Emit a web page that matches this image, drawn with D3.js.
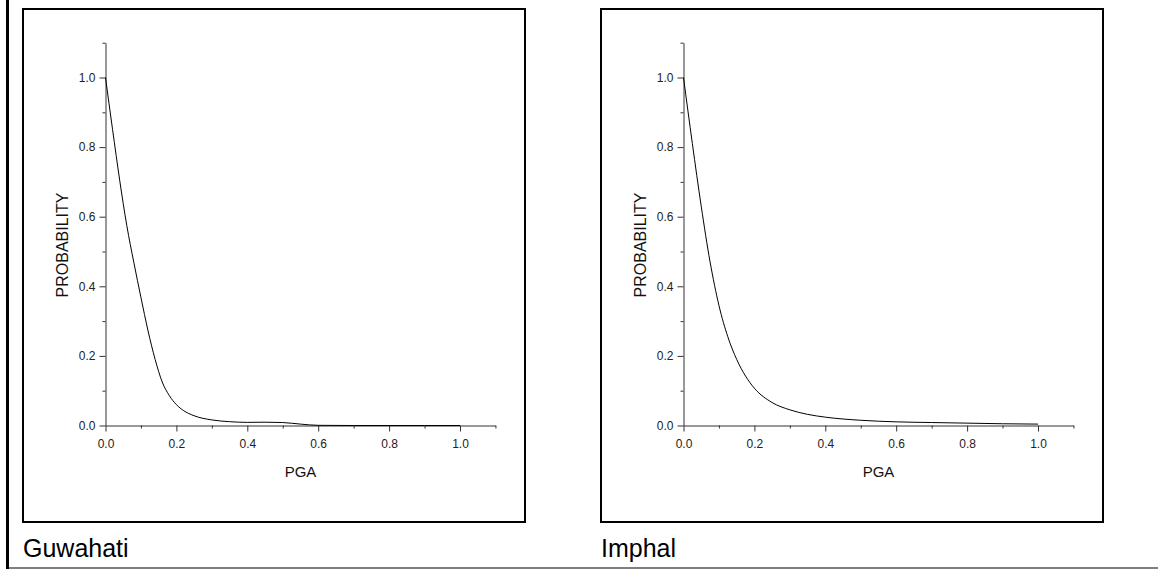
<!DOCTYPE html>
<html>
<head>
<meta charset="utf-8">
<script src="https://cdn.jsdelivr.net/npm/d3@7"></script>
<style>
body { margin: 0; background: #fff; }
svg text { font-family: "Liberation Sans", Arial, sans-serif; }
</style>
</head>
<body>
<div id="chart"></div>
<script>
// values
var pga_guwahati  = [0, 0.02, 0.04, 0.06, 0.08, 0.10, 0.12, 0.14, 0.16, 0.18, 0.20, 0.22, 0.25, 0.30, 0.35, 0.40, 0.45, 0.50, 0.55, 0.60, 0.70, 0.80, 0.90, 1.00];
var prob_guwahati = [1.0, 0.85, 0.705, 0.575, 0.468, 0.368, 0.272, 0.19, 0.125, 0.086, 0.06, 0.043, 0.028, 0.016, 0.011, 0.009, 0.0095, 0.0085, 0.004, 0.0005, 0, 0, 0, 0];

var pga_imphal  = [0, 0.025, 0.05, 0.075, 0.10, 0.125, 0.15, 0.175, 0.20, 0.25, 0.30, 0.35, 0.40, 0.50, 0.60, 0.70, 0.80, 0.90, 1.00];
var prob_imphal = [1.0, 0.81, 0.63, 0.47, 0.345, 0.255, 0.19, 0.142, 0.107, 0.066, 0.045, 0.032, 0.024, 0.015, 0.0105, 0.0085, 0.0068, 0.005, 0.004];

var major_ticks = [0, 0.2, 0.4, 0.6, 0.8, 1.0];
var minor_ticks = [0.1, 0.3, 0.5, 0.7, 0.9, 1.1];
var x_title = "PGA";
var y_title = "PROBABILITY";
var panel_names = ["Guwahati", "Imphal"];

var WIDTH = 1158;
var HEIGHT = 569;

var svg = d3.select('#chart').append('svg')
    .attr('width', WIDTH)
    .attr('height', HEIGHT);

// page rules: heavy bar on the left, thin rule at the bottom
svg.append('line')
    .attr('x1', 7.5).attr('y1', 0)
    .attr('x2', 7.5).attr('y2', HEIGHT)
    .attr('stroke', '#000')
    .attr('stroke-width', 3);

svg.append('line')
    .attr('x1', 6).attr('y1', 568)
    .attr('x2', WIDTH).attr('y2', 568)
    .attr('stroke', '#000')
    .attr('stroke-width', 1.2);

function drawPanel(left, name, pga, prob) {
    var g = svg.append('g')
	.attr('transform', 'translate(' + left + ',0)');

    // frame
    g.append('rect')
	.attr('x', 0).attr('y', 9)
	.attr('width', 502).attr('height', 513)
	.attr('fill', 'none')
	.attr('stroke', '#000')
	.attr('stroke-width', 2);

    var x = d3.scaleLinear().domain([0, 1.1]).range([82.5, 82.5 + 354.5 * 1.1]);
    var y = d3.scaleLinear().domain([0, 1.1]).range([425.5, 425.5 - 348 * 1.1]);

    var fmt = d3.format('.1f');

    // minor ticks first, then major ticks with domain line
    g.append('g')
	.attr('transform', 'translate(0,' + y(0) + ')')
	.call(d3.axisBottom(x).tickValues(minor_ticks).tickSize(3).tickSizeOuter(0).tickFormat(''))
	.call(function(a) { a.select('.domain').remove(); });

    g.append('g')
	.attr('transform', 'translate(' + x(0) + ',0)')
	.call(d3.axisLeft(y).tickValues(minor_ticks).tickSize(3).tickSizeOuter(0).tickFormat(''))
	.call(function(a) { a.select('.domain').remove(); });

    g.append('g')
	.attr('transform', 'translate(0,' + y(0) + ')')
	.call(d3.axisBottom(x).tickValues(major_ticks).tickSize(6).tickSizeOuter(0).tickPadding(8).tickFormat(fmt));

    g.append('g')
	.attr('transform', 'translate(' + x(0) + ',0)')
	.call(d3.axisLeft(y).tickValues(major_ticks).tickSize(6).tickSizeOuter(0).tickPadding(4).tickFormat(fmt));

    g.selectAll('.tick line').attr('stroke', '#333');
    g.selectAll('.domain').attr('stroke', '#333');
    g.selectAll('.tick text')
	.attr('fill', '#222')
	.attr('font-family', '"Liberation Sans", Arial, sans-serif')
	.attr('font-size', 12);

    // curve
    var pts = pga.map(function(d, i) { return [d, prob[i]]; });
    var line = d3.line()
	    .x(function(d) { return x(d[0]); })
	    .y(function(d) { return y(d[1]); })
	    .curve(d3.curveMonotoneX);

    g.append('path')
	.datum(pts)
	.attr('d', line)
	.attr('fill', 'none')
	.attr('stroke', '#000')
	.attr('stroke-width', 1);

    // axis titles
    g.append('text')
	.attr('x', (x.range()[0] + x.range()[1]) / 2)
	.attr('y', 477)
	.attr('text-anchor', 'middle')
	.attr('font-size', 15)
	.attr('fill', '#111')
	.text(x_title);

    g.append('text')
	.attr('transform', 'translate(45,245) rotate(-90)')
	.attr('text-anchor', 'middle')
	.attr('font-size', 16)
	.attr('fill', '#111')
	.text(y_title);

    // caption under the frame
    g.append('text')
	.attr('x', 0)
	.attr('y', 557)
	.attr('font-size', 25)
	.attr('fill', '#000')
	.text(name);
}

drawPanel(23, panel_names[0], pga_guwahati, prob_guwahati);
drawPanel(601, panel_names[1], pga_imphal, prob_imphal);
</script>
</body>
</html>
